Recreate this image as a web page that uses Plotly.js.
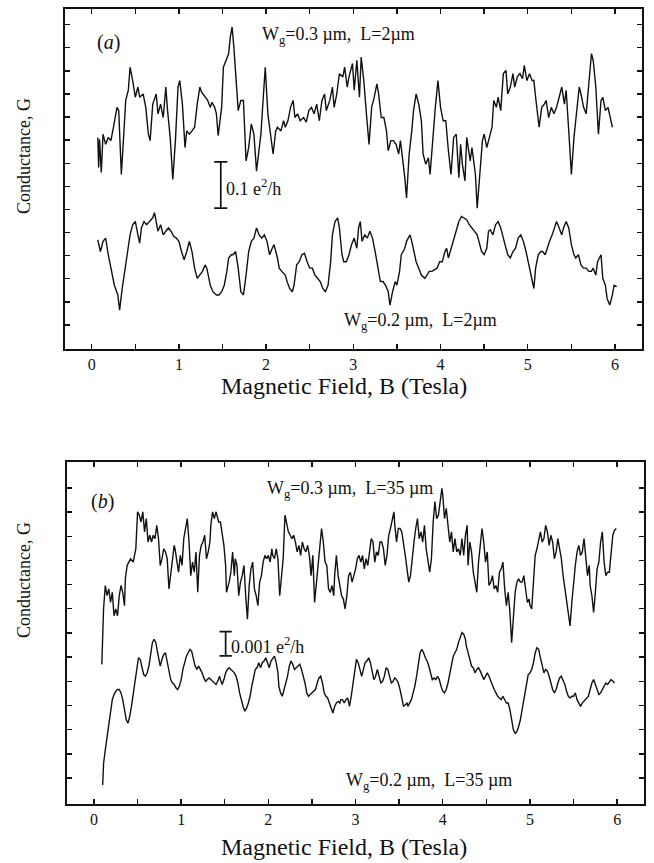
<!DOCTYPE html>
<html>
<head>
<meta charset="utf-8">
<script src="https://cdn.plot.ly/plotly-3.0.1.min.js"></script>
<style>
  html, body { margin: 0; padding: 0; background: #fff; }
  #chart { width: 654px; height: 863px; }
</style>
</head>
<body>
<div id="chart"></div>
<script>
// Magnetoconductance fluctuations, G(B), for two gate widths at two channel lengths.

// ---- (a) L = 2 um : conductance in e^2/h (arbitrary offset) ----
const fieldTopA = [0.07,0.08,0.09,0.11,0.13,0.16,0.19,0.22,0.25,0.29,0.31,0.34,0.37,0.39,0.42,0.44,0.47,0.50,0.53,0.55,0.59,0.62,0.65,0.67,0.70,0.74,0.76,0.79,0.82,0.85,0.87,0.90,0.93,0.96,0.99,1.01,1.04,1.07,1.09,1.12,1.15,1.18,1.21,1.24,1.26,1.30,1.33,1.36,1.38,1.41,1.43,1.45,1.49,1.51,1.54,1.57,1.59,1.61,1.63,1.65,1.68,1.71,1.74,1.77,1.80,1.83,1.86,1.89,1.92,1.94,1.97,1.99,2.02,2.05,2.08,2.11,2.13,2.17,2.20,2.22,2.25,2.28,2.31,2.33,2.36,2.39,2.43,2.46,2.49,2.52,2.55,2.58,2.61,2.64,2.67,2.69,2.73,2.76,2.78,2.81,2.84,2.88,2.90,2.93,2.95,2.99,3.01,3.04,3.07,3.09,3.12,3.15,3.18,3.21,3.24,3.27,3.29,3.32,3.35,3.38,3.40,3.43,3.46,3.49,3.52,3.54,3.57,3.59,3.61,3.64,3.67,3.69,3.72,3.75,3.78,3.80,3.83,3.86,3.88,3.91,3.94,3.97,4.00,4.03,4.06,4.09,4.12,4.15,4.18,4.21,4.23,4.25,4.28,4.30,4.34,4.36,4.40,4.42,4.45,4.48,4.50,4.53,4.56,4.59,4.61,4.64,4.66,4.69,4.72,4.75,4.77,4.80,4.83,4.85,4.88,4.91,4.94,4.96,4.99,5.02,5.05,5.07,5.09,5.13,5.16,5.19,5.21,5.24,5.27,5.30,5.33,5.36,5.39,5.42,5.44,5.47,5.50,5.53,5.56,5.59,5.61,5.64,5.67,5.70,5.73,5.75,5.78,5.81,5.84,5.86,5.89,5.92,5.95,5.97];
const condTopA = [0.406,0.341,0.402,0.330,0.413,0.391,0.406,0.399,0.428,0.471,
  0.464,0.326,0.420,0.486,0.508,0.558,0.529,0.493,0.515,0.493,
  0.500,0.471,0.413,0.399,0.478,0.500,0.457,0.478,0.449,0.515,
  0.464,0.406,0.315,0.399,0.515,0.529,0.478,0.384,0.420,0.413,
  0.420,0.428,0.478,0.515,0.504,0.493,0.486,0.471,0.482,0.471,
  0.457,0.410,0.471,0.558,0.573,0.587,0.624,0.645,0.602,0.537,
  0.464,0.486,0.486,0.355,0.384,0.435,0.413,0.333,0.384,0.413,
  0.500,0.558,0.457,0.413,0.370,0.420,0.428,0.420,0.442,0.428,
  0.442,0.471,0.486,0.449,0.457,0.442,0.449,0.439,0.464,0.471,
  0.457,0.478,0.442,0.486,0.500,0.464,0.486,0.515,0.471,0.500,
  0.544,0.537,0.558,0.515,0.537,0.566,0.508,0.573,0.493,0.580,
  0.529,0.457,0.391,0.471,0.493,0.522,0.500,0.449,0.449,0.420,
  0.377,0.399,0.399,0.391,0.370,0.399,0.355,0.319,0.275,0.370,
  0.420,0.464,0.500,0.478,0.442,0.370,0.348,0.362,0.326,0.406,
  0.471,0.529,0.471,0.442,0.442,0.377,0.326,0.406,0.413,0.319,
  0.391,0.348,0.312,0.406,0.355,0.384,0.326,0.253,0.319,0.399,
  0.413,0.384,0.406,0.428,0.486,0.471,0.493,0.464,0.544,0.551,
  0.500,0.515,0.544,0.515,0.537,0.544,0.533,0.562,0.529,0.544,
  0.529,0.529,0.493,0.428,0.471,0.478,0.486,0.449,0.471,0.457,
  0.471,0.493,0.515,0.478,0.508,0.420,0.326,0.406,0.457,0.515,
  0.500,0.471,0.457,0.529,0.587,0.573,0.515,0.413,0.486,0.493,
  0.464,0.471,0.442,0.428];

const fieldBotA = [0.07,0.10,0.13,0.16,0.19,0.22,0.26,0.30,0.32,0.35,0.38,0.41,0.44,0.47,0.50,0.53,0.55,0.57,0.60,0.63,0.66,0.70,0.72,0.74,0.76,0.79,0.82,0.85,0.88,0.91,0.94,0.97,1.00,1.03,1.06,1.09,1.12,1.15,1.18,1.21,1.24,1.27,1.30,1.32,1.36,1.39,1.43,1.46,1.49,1.52,1.55,1.57,1.60,1.62,1.65,1.68,1.71,1.74,1.77,1.80,1.83,1.86,1.89,1.92,1.95,1.98,2.01,2.04,2.07,2.09,2.13,2.15,2.18,2.22,2.24,2.27,2.30,2.32,2.35,2.38,2.41,2.44,2.47,2.50,2.53,2.56,2.59,2.62,2.65,2.68,2.71,2.74,2.76,2.79,2.82,2.84,2.87,2.89,2.92,2.95,2.98,3.01,3.04,3.06,3.08,3.10,3.13,3.16,3.19,3.22,3.25,3.28,3.31,3.34,3.37,3.40,3.42,3.45,3.48,3.50,3.53,3.55,3.59,3.61,3.65,3.67,3.70,3.72,3.75,3.78,3.82,3.84,3.87,3.90,3.93,3.96,3.99,4.02,4.05,4.07,4.09,4.12,4.15,4.18,4.21,4.24,4.27,4.30,4.33,4.36,4.39,4.42,4.44,4.47,4.50,4.53,4.55,4.57,4.60,4.63,4.66,4.69,4.72,4.75,4.77,4.80,4.83,4.86,4.89,4.92,4.95,4.98,5.01,5.04,5.07,5.09,5.12,5.15,5.17,5.20,5.22,5.25,5.28,5.31,5.33,5.36,5.39,5.41,5.44,5.47,5.50,5.53,5.55,5.58,5.61,5.64,5.67,5.70,5.73,5.75,5.78,5.80,5.84,5.86,5.89,5.91,5.94,5.97,5.99,6.02];
const condBotA = [0.184,0.159,0.181,0.188,0.152,0.123,0.086,0.065,0.032,0.079,
  0.116,0.152,0.195,0.217,0.224,0.195,0.177,0.210,0.224,0.217,
  0.224,0.232,0.243,0.224,0.203,0.217,0.195,0.203,0.210,0.203,
  0.192,0.188,0.181,0.159,0.141,0.159,0.181,0.159,0.123,0.101,
  0.108,0.116,0.130,0.123,0.086,0.072,0.065,0.065,0.072,0.086,
  0.116,0.145,0.152,0.152,0.159,0.123,0.072,0.065,0.108,0.159,
  0.181,0.188,0.210,0.195,0.188,0.195,0.181,0.152,0.166,0.174,
  0.145,0.123,0.116,0.108,0.094,0.079,0.072,0.086,0.130,0.137,
  0.152,0.155,0.137,0.123,0.123,0.108,0.101,0.094,0.079,0.072,
  0.086,0.137,0.195,0.224,0.232,0.210,0.152,0.137,0.137,0.152,
  0.174,0.188,0.166,0.210,0.224,0.181,0.195,0.188,0.203,0.188,
  0.159,0.123,0.094,0.094,0.086,0.072,0.043,0.072,0.094,0.086,
  0.116,0.152,0.166,0.181,0.195,0.181,0.152,0.137,0.123,0.108,
  0.101,0.108,0.116,0.116,0.119,0.123,0.137,0.137,0.159,0.166,
  0.145,0.166,0.188,0.203,0.224,0.235,0.232,0.228,0.217,0.210,
  0.203,0.195,0.181,0.159,0.152,0.166,0.203,0.206,0.195,0.217,
  0.224,0.210,0.188,0.166,0.152,0.145,0.159,0.166,0.188,0.195,
  0.181,0.159,0.130,0.108,0.079,0.123,0.152,0.159,0.159,0.152,
  0.166,0.181,0.195,0.210,0.224,0.210,0.195,0.210,0.224,0.210,
  0.174,0.152,0.145,0.152,0.130,0.123,0.123,0.116,0.116,0.123,
  0.108,0.137,0.152,0.101,0.086,0.057,0.043,0.065,0.086,0.083];

// ---- (b) L = 35 um : conductance in units of 1e-3 e^2/h (arbitrary offset) ----
const fieldTopB = [0.09,0.11,0.13,0.15,0.17,0.19,0.21,0.23,0.25,0.27,
  0.29,0.31,0.33,0.35,0.36,0.38,0.40,0.42,0.45,0.48,
  0.50,0.52,0.54,0.56,0.58,0.60,0.62,0.64,0.66,0.68,
  0.70,0.72,0.74,0.76,0.78,0.80,0.82,0.84,0.86,0.88,
  0.90,0.92,0.93,0.95,0.97,0.99,1.01,1.03,1.05,1.07,
  1.09,1.11,1.13,1.15,1.17,1.19,1.21,1.23,1.25,1.27,
  1.29,1.31,1.33,1.34,1.36,1.38,1.40,1.43,1.45,1.47,
  1.49,1.51,1.52,1.55,1.57,1.59,1.61,1.62,1.64,1.66,
  1.68,1.70,1.72,1.74,1.76,1.78,1.80,1.82,1.84,1.86,
  1.88,1.90,1.92,1.94,1.96,1.98,2.00,2.02,2.04,2.05,
  2.07,2.09,2.11,2.13,2.15,2.17,2.19,2.21,2.23,2.25,
  2.27,2.29,2.31,2.33,2.35,2.37,2.39,2.41,2.43,2.45,
  2.47,2.49,2.51,2.53,2.55,2.57,2.59,2.61,2.63,2.65,
  2.67,2.69,2.71,2.73,2.75,2.76,2.78,2.80,2.82,2.84,
  2.86,2.88,2.90,2.92,2.94,2.96,2.98,3.00,3.02,3.04,
  3.06,3.08,3.10,3.12,3.14,3.16,3.18,3.20,3.22,3.24,
  3.26,3.28,3.30,3.32,3.34,3.36,3.38,3.40,3.42,3.44,
  3.45,3.47,3.49,3.51,3.53,3.55,3.57,3.59,3.61,3.63,
  3.65,3.67,3.69,3.71,3.73,3.75,3.77,3.79,3.81,3.83,
  3.85,3.87,3.89,3.91,3.93,3.95,3.97,3.99,4.00,4.02,
  4.04,4.06,4.08,4.10,4.12,4.14,4.16,4.18,4.20,4.22,
  4.24,4.26,4.28,4.29,4.31,4.33,4.35,4.37,4.39,4.41,
  4.43,4.45,4.47,4.49,4.51,4.53,4.55,4.57,4.59,4.61,
  4.63,4.65,4.67,4.69,4.71,4.73,4.75,4.77,4.79,4.81,
  4.83,4.85,4.87,4.89,4.91,4.93,4.95,4.97,4.99,5.00,
  5.02,5.04,5.06,5.08,5.10,5.12,5.14,5.16,5.18,5.20,
  5.22,5.24,5.26,5.28,5.30,5.32,5.34,5.36,5.38,5.40,
  5.42,5.44,5.46,5.48,5.50,5.52,5.54,5.56,5.58,5.60,
  5.62,5.64,5.66,5.68,5.69,5.71,5.73,5.75,5.77,5.79,
  5.81,5.83,5.85,5.87,5.89,5.91,5.93,5.95,5.97,5.99];
const condTopB = [4.70,6.99,7.96,7.54,7.82,7.26,7.68,6.71,6.99,6.71,
  7.54,7.96,7.68,7.13,8.24,8.79,8.93,9.07,8.93,9.48,
  11.01,10.87,10.59,11.01,10.18,10.73,9.76,10.04,9.76,10.04,
  9.90,10.45,9.90,8.79,9.07,9.48,9.35,9.07,7.82,8.37,
  8.93,9.62,9.48,9.07,8.51,9.21,8.79,9.90,10.32,10.73,
  9.76,8.37,8.93,8.51,9.35,7.68,9.21,9.62,9.76,10.04,
  9.07,9.35,9.76,10.45,11.01,10.73,11.01,10.59,10.59,10.04,
  9.62,8.79,7.68,8.10,8.51,9.35,8.37,9.07,8.79,7.54,
  8.10,8.37,8.79,7.54,6.57,7.96,8.65,8.93,7.82,7.54,
  7.13,8.10,8.37,8.93,9.21,9.07,9.21,8.93,9.48,9.21,
  9.07,9.48,9.07,7.54,8.37,9.07,10.87,10.45,10.18,10.04,
  9.90,10.04,9.76,9.35,9.62,9.21,9.76,9.48,9.35,9.62,
  9.21,8.37,9.21,7.26,8.10,8.93,9.48,10.32,9.76,8.93,
  8.79,7.82,7.68,7.96,7.54,8.37,9.21,8.37,7.96,7.54,
  7.40,6.99,7.54,8.37,8.51,8.10,8.37,8.65,9.07,9.21,
  8.93,9.21,8.65,9.07,8.79,9.48,9.90,9.76,8.93,9.35,
  9.21,9.76,9.76,9.48,8.79,9.21,10.04,10.32,10.73,11.01,
  10.45,9.76,10.32,10.32,10.18,9.76,9.21,8.65,8.10,8.37,
  9.21,9.76,10.32,10.73,9.90,10.18,9.76,10.45,9.48,8.93,
  8.51,9.07,10.59,11.43,10.73,10.87,11.57,11.98,11.70,10.73,
  11.15,10.45,9.76,10.18,9.35,9.90,9.35,9.48,9.21,9.90,
  9.21,10.04,10.45,8.79,9.76,9.35,8.51,8.10,7.68,8.93,
  9.76,10.32,9.76,8.93,9.35,7.96,8.10,8.37,7.82,7.96,
  7.68,8.51,8.65,8.93,7.82,7.13,7.68,6.85,5.60,6.85,
  7.68,8.10,8.24,8.10,8.10,8.37,7.82,7.26,7.40,7.13,
  6.99,8.24,9.21,9.48,9.90,10.18,9.76,9.90,10.45,10.18,
  9.62,10.04,9.76,9.07,9.35,9.90,9.48,9.07,8.37,7.82,
  7.26,6.85,6.29,7.26,8.10,8.79,9.35,9.62,9.21,9.35,
  9.90,9.21,8.37,8.79,7.96,7.54,6.85,7.68,8.65,8.93,
  9.76,10.18,8.93,8.37,8.51,8.51,9.21,10.04,10.25,10.32];

const fieldBotB = [0.10,0.11,0.13,0.15,0.17,0.19,0.21,0.23,0.25,0.27,
  0.29,0.31,0.33,0.35,0.37,0.39,0.41,0.43,0.45,0.47,
  0.49,0.51,0.53,0.55,0.57,0.59,0.61,0.63,0.65,0.67,
  0.69,0.71,0.73,0.75,0.76,0.78,0.80,0.82,0.84,0.86,
  0.88,0.90,0.92,0.94,0.96,0.98,1.00,1.02,1.04,1.06,
  1.08,1.10,1.12,1.14,1.16,1.18,1.20,1.22,1.24,1.26,
  1.28,1.30,1.32,1.34,1.36,1.38,1.40,1.42,1.44,1.45,
  1.47,1.49,1.51,1.53,1.55,1.57,1.59,1.61,1.63,1.65,
  1.67,1.69,1.71,1.73,1.75,1.77,1.79,1.81,1.83,1.85,
  1.87,1.89,1.91,1.93,1.95,1.97,1.99,2.01,2.03,2.05,
  2.07,2.09,2.11,2.12,2.14,2.16,2.18,2.20,2.22,2.24,
  2.26,2.28,2.30,2.32,2.34,2.36,2.38,2.40,2.42,2.44,
  2.46,2.48,2.50,2.52,2.54,2.56,2.58,2.60,2.62,2.64,
  2.66,2.68,2.70,2.72,2.74,2.76,2.78,2.80,2.82,2.83,
  2.85,2.87,2.89,2.91,2.93,2.95,2.97,2.99,3.01,3.03,
  3.05,3.07,3.09,3.11,3.13,3.15,3.17,3.19,3.21,3.23,
  3.25,3.27,3.29,3.31,3.33,3.35,3.37,3.39,3.41,3.43,
  3.45,3.47,3.49,3.51,3.53,3.55,3.57,3.59,3.60,3.62,
  3.64,3.66,3.68,3.70,3.72,3.74,3.76,3.78,3.80,3.82,
  3.84,3.86,3.88,3.90,3.92,3.94,3.96,3.98,4.00,4.02,
  4.04,4.06,4.08,4.10,4.12,4.14,4.16,4.18,4.20,4.22,
  4.24,4.26,4.27,4.29,4.31,4.33,4.35,4.37,4.39,4.41,
  4.43,4.45,4.47,4.49,4.51,4.53,4.55,4.57,4.59,4.61,
  4.63,4.65,4.67,4.69,4.71,4.73,4.75,4.77,4.79,4.81,
  4.83,4.85,4.87,4.89,4.91,4.93,4.95,4.97,4.98,5.00,
  5.02,5.04,5.06,5.08,5.10,5.12,5.14,5.16,5.18,5.20,
  5.22,5.24,5.26,5.28,5.30,5.32,5.34,5.36,5.38,5.40,
  5.42,5.44,5.46,5.48,5.50,5.52,5.54,5.56,5.58,5.60,
  5.62,5.64,5.65,5.67,5.69,5.71,5.73,5.75,5.77,5.79,
  5.81,5.83,5.85,5.87,5.89,5.91,5.93,5.95,5.97];
const condBotB = [-0.29,0.60,1.16,1.71,2.27,2.83,3.24,3.45,3.59,3.66,
  3.66,3.52,3.24,2.83,2.41,2.27,2.55,2.96,3.52,4.07,
  4.63,4.97,4.91,4.56,4.28,4.21,4.35,4.63,5.18,5.60,
  5.74,5.60,5.18,4.77,4.63,4.91,5.11,5.18,4.77,4.35,
  4.07,3.93,3.87,3.73,3.66,3.80,4.07,4.49,4.77,5.04,
  5.18,5.32,5.25,4.97,4.63,4.49,4.63,4.49,4.35,4.14,
  4.00,4.07,4.14,4.07,4.00,3.93,3.87,4.00,4.21,4.07,
  3.87,4.07,4.35,4.49,4.56,4.49,4.42,4.35,4.21,3.93,
  3.52,3.17,2.96,2.76,2.89,3.10,3.38,3.80,4.21,4.49,
  4.56,4.77,4.56,4.77,4.84,4.97,4.77,4.56,4.84,4.97,
  5.04,4.77,4.35,3.80,3.52,3.38,3.66,3.93,4.21,4.63,
  4.84,4.70,4.49,4.56,4.63,4.70,4.49,4.21,3.93,3.52,
  3.38,3.45,3.52,3.59,3.66,3.93,4.14,4.21,3.93,3.52,
  3.38,3.31,3.10,2.83,2.69,2.96,3.10,3.17,3.10,3.24,
  3.24,3.10,3.24,3.31,2.96,3.38,3.93,4.49,4.91,4.77,
  4.49,4.21,4.49,4.77,4.84,4.97,4.77,4.35,4.07,4.21,
  4.49,4.21,3.93,4.00,4.21,4.56,4.49,4.21,3.93,4.00,
  4.14,4.07,3.93,3.66,3.24,2.96,3.03,3.10,2.96,3.10,
  3.24,3.52,3.80,4.21,4.77,5.18,5.32,5.18,4.97,4.84,
  4.63,4.28,4.07,4.14,4.07,4.21,4.07,3.80,3.59,3.52,
  3.66,3.93,4.35,4.77,5.04,5.18,5.32,5.60,5.81,6.02,
  5.95,5.74,5.46,5.18,4.91,4.63,4.56,4.35,4.49,4.56,
  4.42,4.21,4.07,4.21,4.35,4.21,4.00,3.87,3.66,3.52,
  3.38,3.31,3.24,3.38,3.24,3.10,3.10,2.83,2.41,1.99,
  1.85,1.92,2.13,2.41,2.83,3.24,3.66,4.07,4.28,4.35,
  4.49,4.77,5.18,5.39,5.32,4.97,4.63,4.35,4.49,4.42,
  4.21,3.93,3.66,3.52,3.66,3.93,4.14,4.21,4.07,3.87,
  3.59,3.38,3.31,3.38,3.38,3.52,3.24,3.10,2.96,3.10,
  3.17,3.24,3.31,3.38,3.66,3.93,4.07,3.87,3.59,3.45,
  3.52,3.66,3.80,3.93,3.87,4.00,4.07,4.00,3.93];
const unitB = 1e-3;   // panel (b) values above are in 1e-3 e^2/h

// ---- ticks, scale bars and labels ----
const fieldTicks = [0,0.5,1,1.5,2,2.5,3,3.5,4,4.5,5,5.5,6];
const fieldTickText = ['0','','1','','2','','3','','4','','5','','6'];
const condTicksA = [0,0.05,0.10,0.15,0.20,0.25,0.30,0.35,0.40,0.45,0.50,0.55,0.60,0.65];
const condTicksB = [0,1,2,3,4,5,6,7,8,9,10,11,12].map(v => v * unitB);
const scaleBarA = 0.1;     // e^2/h
const scaleBarB = 0.001;   // e^2/h
const panelTags = ['(<i>a</i>)', '(<i>b</i>)'];
const curveLabels = [
  'W<sub>g</sub>=0.3 \u00b5m,\u00a0 L=2\u00b5m',
  'W<sub>g</sub>=0.2 \u00b5m,\u00a0 L=2\u00b5m',
  'W<sub>g</sub>=0.3 \u00b5m,\u00a0 L=35\u00a0\u00b5m',
  'W<sub>g</sub>=0.2 \u00b5m,\u00a0 L=35\u00a0\u00b5m'
];
const scaleLabels = ['0.1 e<sup>2</sup>/h', '0.001 e<sup>2</sup>/h'];
const xTitle = 'Magnetic Field, B (Tesla)';
const yTitle = 'Conductance, G';

// ---- drawing ----
const serif = 'Liberation Serif, Times New Roman, Times, serif';
const ink = '#111111';
const W = 654, H = 863;
const px = x => x / W;
const py = y => 1 - y / H;

function curve(x, y, xa, ya) {
  return { x, y, xaxis: xa, yaxis: ya, type: 'scatter', mode: 'lines',
           line: { color: ink, width: 1.4 }, hoverinfo: 'skip', showlegend: false };
}

const traces = [
  curve(fieldTopA, condTopA, 'x', 'y'),
  curve(fieldBotA, condBotA, 'x', 'y'),
  curve(fieldTopB, condTopB.map(v => v * unitB), 'x2', 'y2'),
  curve(fieldBotB, condBotB.map(v => v * unitB), 'x2', 'y2')
];

function xAxis(domain, range, anchor) {
  return {
    domain, range, anchor,
    tickmode: 'array', tickvals: fieldTicks, ticktext: fieldTickText,
    ticks: 'inside', ticklen: 5, tickwidth: 1.4, tickcolor: ink,
    showline: true, linewidth: 2, linecolor: ink, mirror: 'ticks',
    showgrid: false, zeroline: false, ticklabelstandoff: 0,
    tickfont: { family: serif, size: 16, color: ink }, fixedrange: true
  };
}
function yAxis(domain, range, anchor, ticks) {
  return {
    domain, range, anchor,
    tickmode: 'array', tickvals: ticks, showticklabels: false,
    ticks: 'inside', ticklen: 5, tickwidth: 1.4, tickcolor: ink,
    showline: true, linewidth: 2, linecolor: ink, mirror: 'ticks',
    showgrid: false, zeroline: false, fixedrange: true
  };
}

function bar(xref, yref, xc, y0, h, hw) {
  const ln = { color: ink, width: 1.7 };
  return [
    { type: 'line', xref, yref, x0: xc, x1: xc, y0: y0, y1: y0 + h, line: ln },
    { type: 'line', xref, yref, x0: xc - hw, x1: xc + hw, y0: y0, y1: y0, line: ln },
    { type: 'line', xref, yref, x0: xc - hw, x1: xc + hw, y0: y0 + h, y1: y0 + h, line: ln }
  ];
}

function note(text, x, y, size, opts) {
  return Object.assign({ text, x: px(x), y: py(y), xref: 'paper', yref: 'paper',
    showarrow: false, xanchor: 'left', yanchor: 'middle',
    font: { family: serif, size, color: ink } }, opts || {});
}

const layout = {
  width: W, height: H,
  margin: { l: 0, r: 0, t: 0, b: 0 },
  paper_bgcolor: '#fff', plot_bgcolor: '#fff',
  showlegend: false,
  xaxis:  xAxis([px(65), px(641.5)], [-0.306, 6.304], 'y'),
  yaxis:  yAxis([py(349), py(8.5)], [-0.052, 0.685], 'x', condTicksA),
  xaxis2: xAxis([px(66.5), px(643.5)], [-0.315, 6.302], 'y2'),
  yaxis2: yAxis([py(803.5), py(462)], [-1.055 * unitB, 13.07 * unitB], 'x2', condTicksB),
  shapes: [].concat(
    bar('x', 'y', 1.48, 0.253, scaleBarA, 0.075),
    bar('x2', 'y2', 1.51, 5.05 * unitB, scaleBarB, 0.07)
  ),
  annotations: [
    note(panelTags[0], 108, 43, 20, { xanchor: 'center' }),
    note(curveLabels[0], 260, 36, 18),
    note(scaleLabels[0], 224, 188, 18),
    note(curveLabels[1], 342, 322, 18),
    note(panelTags[1], 102, 501, 20, { xanchor: 'center' }),
    note(curveLabels[2], 265, 490, 18),
    note(scaleLabels[1], 229, 645, 18),
    note(curveLabels[3], 344, 781, 18),
    note(xTitle, 344, 386, 24, { xanchor: 'center' }),
    note(xTitle, 344, 847, 24, { xanchor: 'center' }),
    note(yTitle, 24, 156, 18, { xanchor: 'center', textangle: -90 }),
    note(yTitle, 24, 580, 18, { xanchor: 'center', textangle: -90 })
  ]
};

Plotly.newPlot('chart', traces, layout, { staticPlot: true, displayModeBar: false });
</script>
</body>
</html>
